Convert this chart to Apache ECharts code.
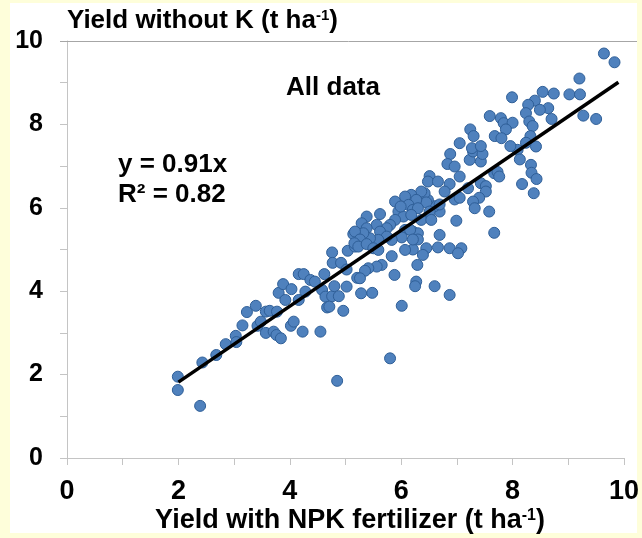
<!DOCTYPE html>
<html><head><meta charset="utf-8">
<script src="https://cdn.jsdelivr.net/npm/echarts/dist/echarts.min.js"></script>
<style>html,body{margin:0;padding:0;background:#FEFEDA}#c{width:642px;height:538px}</style>
</head><body><div id="c"></div>
<script>
// Yield with NPK fertilizer (t/ha)
const xNPK = [
1.99,1.99,2.39,4.85,2.43,2.68,2.85,3.03,3.04,3.15,3.23,3.39,3.42,3.48,3.57,3.57,3.64,3.71,3.76,3.84,
3.77,3.80,3.88,3.92,4.03,4.02,4.07,4.23,4.16,4.25,4.16,4.28,4.37,4.45,4.55,4.58,4.64,4.62,4.67,4.71,
4.76,4.80,4.88,4.96,5.02,4.76,4.77,4.92,5.02,5.04,5.14,5.17,5.21,
6.88,6.83,6.96,7.05,7.23,7.29,7.43,7.46,7.67,6.51,6.48,6.66,6.87,6.78,6.96,7.05,7.43,7.52,7.52,7.40,
7.29,7.32,7.58,7.67,6.99,6.69,6.60,6.48,6.42,6.36,6.45,6.18,6.07,6.27,5.89,6.13,6.21,6.30,6.51,6.36,
5.62,5.95,6.04,5.89,5.80,5.74,5.56,5.38,5.29,5.38,5.62,6.07,6.21,6.30,6.30,6.01,5.83,5.74,5.59,5.44,
5.32,5.17,5.26,5.16,5.23,5.38,5.50,5.59,6.69,6.66,6.87,7.08,7.02,6.45,6.39,6.21,6.07,5.83,6.29,5.88,
5.65,5.56,5.41,5.35,5.26,5.28,5.48,6.27,6.25,6.60,6.87,6.01,
7.20,5.99,6.51,6.69,6.54,6.18,6.16,6.21,5.80,
9.64,9.83,9.20,9.02,9.21,8.74,8.54,7.99,8.40,8.28,8.64,8.49,8.24,8.70,9.27,9.50,8.30,8.36,8.32,8.24,
8.42,8.09,8.13,8.33,8.34,8.43,8.17,8.38,7.79,7.91,7.84,8.00,7.88,7.59,7.68,7.80,7.96,7.73,7.76,7.24,
7.30,7.05,7.27,7.43
];
// Yield without K (t/ha)
const yNoK = [
1.95,1.63,1.25,1.85,2.29,2.47,2.73,2.93,2.78,3.18,3.50,3.65,3.17,3.27,3.00,3.51,3.53,3.03,2.95,2.87,
3.51,3.96,4.17,3.79,4.05,3.17,3.27,3.03,4.41,4.41,3.79,3.99,4.27,4.23,3.03,4.03,3.87,4.41,3.61,3.63,
3.88,4.12,3.88,3.53,4.11,4.93,4.68,4.68,4.52,4.97,5.37,5.07,4.32,
7.29,7.05,6.99,6.75,7.15,7.35,7.11,7.29,6.83,6.76,6.63,6.63,6.57,6.39,6.20,6.24,6.59,6.52,6.39,6.24,
6.15,5.99,5.91,5.40,5.69,5.91,6.04,6.19,6.35,6.39,6.13,6.31,6.27,6.19,6.15,6.07,5.95,5.99,5.75,5.71,
5.85,5.91,5.79,5.71,5.59,5.51,5.59,5.79,5.63,5.51,5.43,5.47,5.43,5.39,5.24,5.29,5.23,5.31,5.23,5.27,
5.39,5.43,5.24,5.15,5.07,5.13,5.03,4.99,5.35,5.05,5.03,5.03,4.91,5.03,4.87,5.00,4.99,4.84,4.63,4.39,
4.63,4.59,4.55,4.49,4.31,3.95,3.96,4.23,4.12,4.12,3.91,3.65,
6.47,6.03,5.91,6.08,5.71,5.83,5.47,5.24,2.39,
9.70,9.49,9.10,8.72,8.72,8.74,8.78,8.65,8.57,8.47,8.39,8.35,8.27,8.13,8.21,8.13,8.07,7.96,7.72,7.56,
7.47,7.39,7.16,7.03,6.84,6.69,6.57,6.35,8.15,7.99,8.03,8.04,7.88,8.20,7.72,7.67,7.48,6.86,6.75,7.88,
7.72,7.55,7.43,7.48
];
// Fitted line y = 0.91x (end points)
const trendX = [2.0, 9.9];
const trendY = [1.82, 9.01];
const xLabels = [0, 2, 4, 6, 8, 10];
const yLabels = [0, 2, 4, 6, 8, 10];
const eqText = 'y = 0.91x';
const r2Text = 'R² = 0.82';
const panelText = 'All data';

const FONT = 'Liberation Sans, Arial, sans-serif';
const points = xNPK.map((x, i) => [x, yNoK[i]]);
const trend = trendX.map((x, i) => [x, trendY[i]]);

const chart = echarts.init(document.getElementById('c'), null, {renderer: 'canvas'});
const axisCommon = {
  type: 'value', min: 0, max: 10, interval: 2,
  axisLine: {show: true, onZero: false, lineStyle: {color: '#C4C4C4', width: 1}},
  axisTick: {show: true, length: 7, lineStyle: {color: '#C4C4C4'}},
  minorTick: {show: true, splitNumber: 2, length: 7, lineStyle: {color: '#C4C4C4'}},
  splitLine: {show: false}
};
chart.setOption({
  backgroundColor: '#FEFEDA',
  animation: false,
  grid: {left: 67, right: 15, top: 41, bottom: 80},
  xAxis: Object.assign({}, axisCommon, {
    axisLabel: {fontFamily: FONT, fontWeight: 'bold', fontSize: 27, color: '#000', margin: 20,
      formatter: v => xLabels.includes(v) ? String(v) : ''}
  }),
  yAxis: Object.assign({}, axisCommon, {
    axisLabel: {fontFamily: FONT, fontWeight: 'bold', fontSize: 25, color: '#000', margin: 24,
      formatter: v => yLabels.includes(v) ? String(v) : ''}
  }),
  graphic: [
    {type: 'rect', z: -100, shape: {x: 10, y: 3, width: 627, height: 530}, style: {fill: '#FFFFFF'}},
    {type: 'line', z: 1, shape: {x1: 60, y1: 41.5, x2: 637, y2: 41.5}, style: {stroke: '#A6A6A6', lineWidth: 1}},
    {type: 'text', x: 67, y: 21, style: {
      text: 'Yield without K (t ha{s|-1})', fontFamily: FONT, fontWeight: 'bold', fontSize: 26, fill: '#000',
      verticalAlign: 'middle', align: 'left',
      rich: {s: {fontFamily: FONT, fontWeight: 'bold', fontSize: 15, fill: '#000', verticalAlign: 'top'}}
    }},
    {type: 'text', x: 350, y: 521, style: {
      text: 'Yield with NPK fertilizer (t ha{s|-1})', fontFamily: FONT, fontWeight: 'bold', fontSize: 27, fill: '#000',
      verticalAlign: 'middle', align: 'center',
      rich: {s: {fontFamily: FONT, fontWeight: 'bold', fontSize: 16, fill: '#000', verticalAlign: 'top'}}
    }},
    {type: 'text', x: 333, y: 88, style: {text: panelText, fontFamily: FONT, fontWeight: 'bold', fontSize: 26, fill: '#000', align: 'center', verticalAlign: 'middle'}},
    {type: 'text', x: 118, y: 165, style: {text: eqText, fontFamily: FONT, fontWeight: 'bold', fontSize: 26, fill: '#000', align: 'left', verticalAlign: 'middle'}},
    {type: 'text', x: 118, y: 195, style: {text: r2Text, fontFamily: FONT, fontWeight: 'bold', fontSize: 26, fill: '#000', align: 'left', verticalAlign: 'middle'}}
  ],
  series: [
    {type: 'scatter', data: points, symbolSize: 11, z: 2,
      itemStyle: {color: '#4F81BD', borderColor: '#2F5F98', borderWidth: 1, opacity: 1}},
    {type: 'line', data: trend, symbol: 'none', z: 3, silent: true,
      lineStyle: {color: '#000', width: 3.5}}
  ]
});
</script>
</body></html>
